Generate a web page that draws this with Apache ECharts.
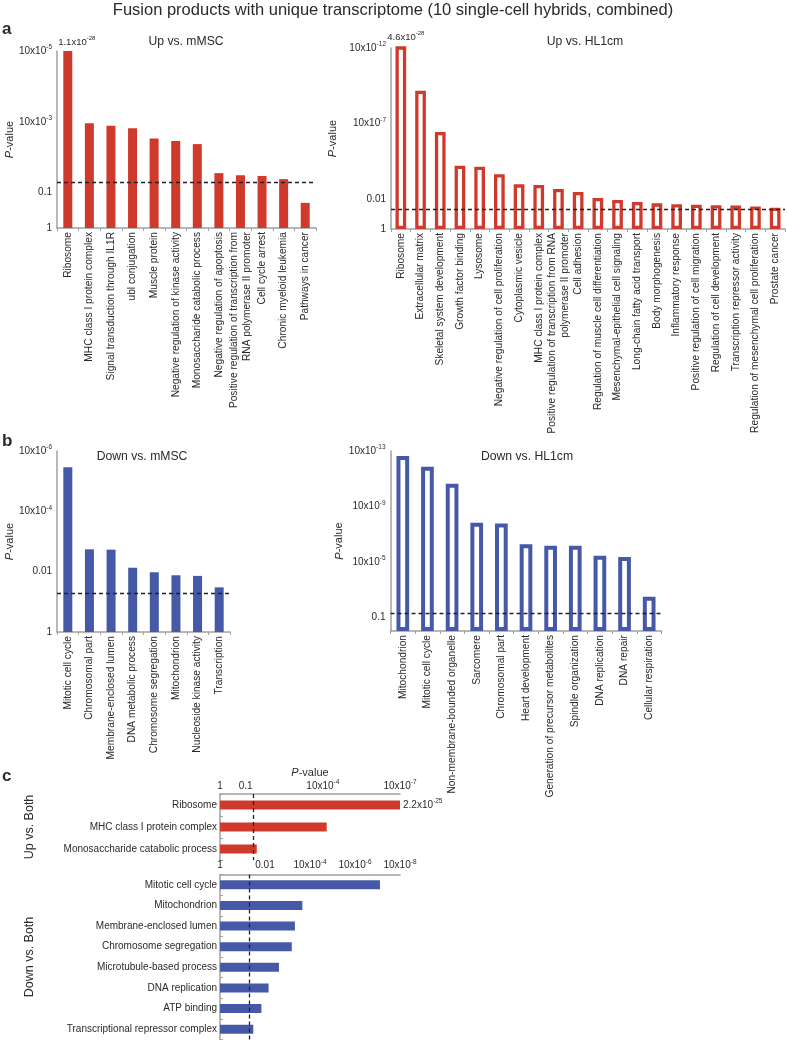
<!DOCTYPE html>
<html><head><meta charset="utf-8">
<script src="https://cdn.jsdelivr.net/npm/echarts@6/dist/echarts.min.js"></script>
<style>html,body{margin:0;padding:0;background:#fff}#c{width:787px;height:1042px}</style>
</head><body><div id="c"></div>
<script>
const FONT = '"Liberation Sans", Arial, Helvetica, sans-serif';
const RED = '#D03A2C', BLUE = '#4659A7', TXT = '#2a2a2a', AXC = '#a0a0a0';
const THRESH = 1.301; // -log10(0.05), dashed significance line

// All values are -log10(P-value)
// a) Up vs. mMSC
const upMmscCats = ['Ribosome','MHC class I protein complex','Signal transduction through IL1R','ubl conjugation','Muscle protein','Negative regulation of kinase activity','Monosaccharide catabolic process','Negative regulation of apoptosis','Positive regulation of transcription from\nRNA polymerase II promoter','Cell cycle arrest','Chronic myeloid leukemia','Pathways in cancer'];
const upMmscVals = [27.96, 2.96, 2.89, 2.82, 2.53, 2.46, 2.37, 1.55, 1.49, 1.47, 1.38, 0.71];
const upMmscTicks = [[0,'1'],[1,'0.1'],[3,'10x10^-3'],[5,'10x10^-5']];
const upMmscNote = '1.1x10^-28';

// a) Up vs. HL1cm
const upHl1Cats = ['Ribosome','Extracellular matrix','Skeletal system development','Growth factor binding','Lysosome','Negative regulation of cell proliferation','Cytoplasmic vesicle','MHC class I protein complex','Positive regulation of transcription from RNA\npolymerase II promoter','Cell adhesion','Regulation of muscle cell differentiation','Mesenchymal-epithelial cell signaling','Long-chain fatty acid transport','Body morphogenesis','Inflammatory response','Positive regulation of cell migration','Regulation of cell development','Transcription repressor activity','Regulation of mesenchymal cell proliferation','Prostate cancer'];
const upHl1Vals = [27.34, 9.17, 6.43, 4.20, 4.13, 3.63, 2.96, 2.92, 2.65, 2.45, 2.06, 1.92, 1.79, 1.70, 1.64, 1.61, 1.57, 1.55, 1.50, 1.41];
const upHl1Ticks = [[0,'1'],[2,'0.01'],[7,'10x10^-7'],[12,'10x10^-12']];
const upHl1Note = '4.6x10^-28';

// b) Down vs. mMSC
const downMmscCats = ['Mitotic cell cycle','Chromosomal part','Membrane-enclosed lumen','DNA metabolic process','Chromosome segregation','Mitochondrion','Nucleoside kinase activity','Transcription'];
const downMmscVals = [5.46, 2.74, 2.73, 2.13, 1.98, 1.88, 1.86, 1.48];
const downMmscTicks = [[0,'1'],[2,'0.01'],[4,'10x10^-4'],[6,'10x10^-6']];

// b) Down vs. HL1cm
const downHl1Cats = ['Mitochondrion','Mitotic cell cycle','Non-membrane-bounded organelle','Sarcomere','Chromosomal part','Heart development','Generation of precursor metabolites','Spindle organization','DNA replication','DNA repair','Cellular respiration'];
const downHl1Vals = [12.64, 11.86, 10.64, 7.82, 7.77, 6.26, 6.16, 6.16, 5.44, 5.34, 2.48];
const downHl1Ticks = [[1,'0.1'],[5,'10x10^-5'],[9,'10x10^-9'],[13,'10x10^-13']];

// c) Up vs. Both / Down vs. Both
const upBothCats = ['Ribosome','MHC class I protein complex','Monosaccharide catabolic process'];
const upBothVals = [24.66, 4.15, 1.43];
const upBothTicks = [[0,'1'],[1,'0.1'],[4,'10x10^-4'],[7,'10x10^-7']];
const upBothNote = '2.2x10^-25';
const downBothCats = ['Mitotic cell cycle','Mitochondrion','Membrane-enclosed lumen','Chromosome segregation','Microtubule-based process','DNA replication','ATP binding','Transcriptional repressor complex'];
const downBothVals = [7.11, 3.66, 3.33, 3.19, 2.62, 2.16, 1.84, 1.48];
const downBothTicks = [[0,'1'],[2,'0.01'],[4,'10x10^-4'],[6,'10x10^-6'],[8,'10x10^-8']];

function supRich(t){ const p = t.split('^'); return p.length > 1 ? '{n|' + p[0] + '}{s|' + p[1] + '}' : '{n|' + t + '}'; }
function richStyle(fs, sfs){ return { n:{fontSize:fs, fontFamily:FONT, color:TXT, padding:[2,0,2,0]}, s:{fontSize:sfs, fontFamily:FONT, color:TXT, verticalAlign:'top'} }; }
function tickFormatter(ticks){ return function(v){ const t = ticks.find(k => Math.abs(k[0] - v) < 1e-6); return t ? supRich(t[1]) : ''; }; }
const pName = '{i|P}-value';
const pNameStyle = {fontSize:11, fontFamily:FONT, color:TXT, rich:{i:{fontStyle:'italic', fontSize:11, fontFamily:FONT, color:TXT}}};
const dashLine = {type:[4,3], color:'#222', width:1.3};

const grids = [
  {left:57, top:51, width:259, height:177},
  {left:391, top:48, width:394, height:181},
  {left:57, top:451, width:173, height:181},
  {left:390.5, top:451, width:271, height:180},
  {left:220, top:794, width:180, height:66},
  {left:220, top:874.5, width:180, height:165}
].map(g => Object.assign({outerBoundsMode:'none', containLabel:false}, g));

const xAxes = [], yAxes = [], series = [];

function vPanel(gi, cats, vals, ticks, max, color, hollow, barW, bw, note, noteOffset, nameGap){
  xAxes.push({type:'category', gridIndex:gi, data:cats,
    axisLine:{show:true, lineStyle:{color:AXC, width:1.5}},
    axisTick:{show:true, length:3, lineStyle:{color:AXC}},
    axisLabel:{rotate:90, interval:0, fontSize:10.2, fontFamily:FONT, color:TXT, margin:4, lineHeight:12.5}});
  yAxes.push({type:'value', gridIndex:gi, min:0, max:max, interval:1,
    splitLine:{show:false}, axisLine:{show:true, lineStyle:{color:AXC, width:1.5}}, axisTick:{show:false},
    axisLabel:{formatter:tickFormatter(ticks), rich:richStyle(10,6.5), margin:5},
    name:pName, nameLocation:'middle', nameGap:nameGap, nameRotate:90, nameTextStyle:pNameStyle});
  const data = vals.map((v,i) => (note && i === 0) ? {value:v, label:{show:true, position:'top', distance:2, offset:noteOffset, formatter:supRich(note), rich:richStyle(9.5,6)}} : v);
  series.push({type:'bar', xAxisIndex:gi, yAxisIndex:gi, data:data, barWidth:barW, clip:true,
    itemStyle: hollow ? {color:'rgba(255,255,255,0)', borderColor:color, borderWidth:bw} : {color:color},
    markLine:{silent:true, symbol:'none', label:{show:false}, lineStyle:dashLine, data:[{yAxis:THRESH}]}});
}

function hPanel(gi, cats, vals, ticks, max, color, note, groupName, showName, labMargin){
  xAxes.push({type:'value', gridIndex:gi, position:'top', min:0, max:max, interval:1,
    splitLine:{show:false}, axisLine:{show:true, lineStyle:{color:AXC, width:1.5}}, axisTick:{show:false},
    axisLabel:{formatter:tickFormatter(ticks), rich:richStyle(10,6.5), margin:labMargin},
    name: showName ? pName : '', nameLocation:'middle', nameGap:16, nameTextStyle:pNameStyle});
  yAxes.push({type:'category', gridIndex:gi, data:cats, inverse:true,
    axisLine:{show:true, lineStyle:{color:AXC, width:1.5}},
    axisTick:{show:true, inside:true, length:3, lineStyle:{color:AXC}},
    axisLabel:{fontSize:10, fontFamily:FONT, color:TXT, margin:3},
    name:groupName, nameLocation:'middle', nameGap:184, nameRotate:90,
    nameTextStyle:{fontSize:12.5, fontFamily:FONT, color:TXT}});
  const data = vals.map((v,i) => (note && i === 0) ? {value:v, label:{show:true, position:'right', distance:3, formatter:supRich(note), rich:richStyle(10,6.5)}} : v);
  series.push({type:'bar', xAxisIndex:gi, yAxisIndex:gi, data:data, barWidth:9, clip:true,
    itemStyle:{color:color},
    markLine:{silent:true, symbol:'none', label:{show:false}, lineStyle:dashLine, data:[{xAxis:THRESH}]}});
}

vPanel(0, upMmscCats, upMmscVals, upMmscTicks, 5, RED, false, 9, 0, upMmscNote, [9,0], 40);
vPanel(1, upHl1Cats, upHl1Vals, upHl1Ticks, 12, RED, true, 10.7, 3.3, upHl1Note, [5,0], 42);
vPanel(2, downMmscCats, downMmscVals, downMmscTicks, 6, BLUE, false, 9, 0, null, null, 41);
vPanel(3, downHl1Cats, downHl1Vals, downHl1Ticks, 13, BLUE, true, 12.7, 4, null, null, 43);
hPanel(4, upBothCats, upBothVals, upBothTicks, 7, RED, upBothNote, 'Up vs. Both', true, 1);
hPanel(5, downBothCats, downBothVals, downBothTicks, 8, BLUE, null, 'Down vs. Both', false, 2);

function txt(x, y, s, size, weight, align){
  return {type:'text', x:x, y:y, silent:true,
    style:{text:s, fill:TXT, font:(weight||'normal') + ' ' + size + 'px ' + FONT,
      align:align||'center', verticalAlign:'middle', textAlign:align||'center', textVerticalAlign:'middle'}};
}

const chart = echarts.init(document.getElementById('c'), null, {renderer:'canvas'});
chart.setOption({
  animation:false,
  backgroundColor:'#fff',
  textStyle:{fontFamily:FONT},
  grid:grids, xAxis:xAxes, yAxis:yAxes, series:series,
  graphic:[
    txt(393, 10, 'Fusion products with unique transcriptome (10 single-cell hybrids, combined)', 16.5),
    txt(2, 29, 'a', 17, 'bold', 'left'),
    txt(2, 441, 'b', 17, 'bold', 'left'),
    txt(2, 776, 'c', 17, 'bold', 'left'),
    txt(186, 42, 'Up vs. mMSC', 12.2),
    txt(585, 42, 'Up vs. HL1cm', 12.2),
    txt(142, 457, 'Down vs. mMSC', 12.2),
    txt(527, 457, 'Down vs. HL1cm', 12.2)
  ]
});
</script></body></html>
